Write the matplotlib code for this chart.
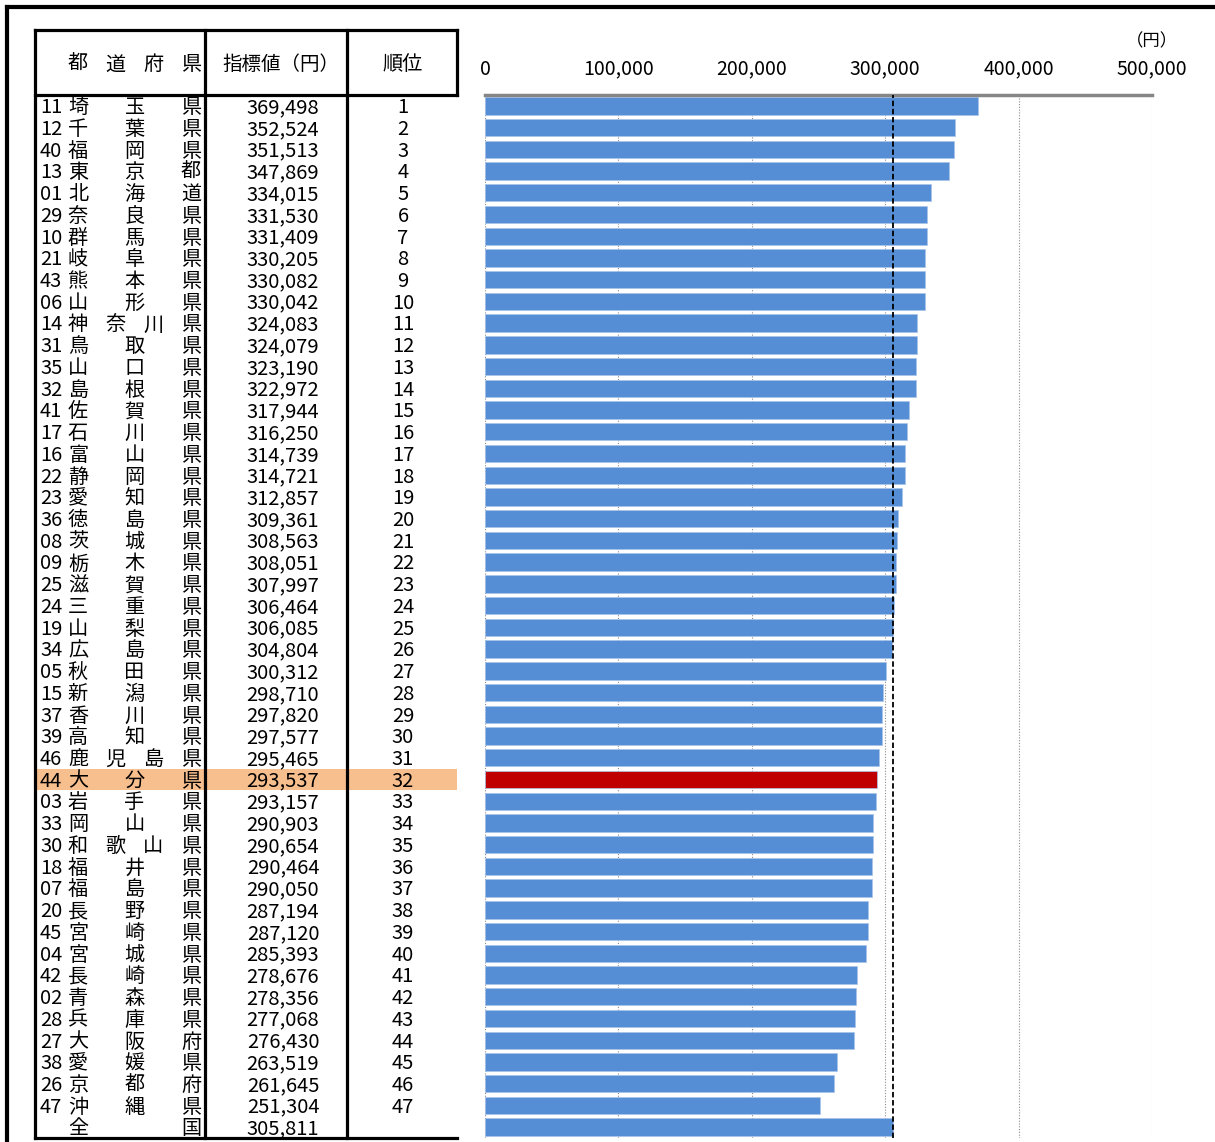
import matplotlib.pyplot as plt
from matplotlib.patches import Rectangle

plt.rcParams['font.family'] = ['Noto Sans CJK JP', 'DejaVu Sans']

# データ（指標値の高い順）
codes = ['11', '12', '40', '13', '01', '29', '10', '21', '43', '06',
         '14', '31', '35', '32', '41', '17', '16', '22', '23', '36',
         '08', '09', '25', '24', '19', '34', '05', '15', '37', '39',
         '46', '44', '03', '33', '30', '18', '07', '20', '45', '04',
         '42', '02', '28', '27', '38', '26', '47', '']
names = ['埼玉県', '千葉県', '福岡県', '東京都', '北海道', '奈良県', '群馬県', '岐阜県', '熊本県', '山形県',
         '神奈川県', '鳥取県', '山口県', '島根県', '佐賀県', '石川県', '富山県', '静岡県', '愛知県', '徳島県',
         '茨城県', '栃木県', '滋賀県', '三重県', '山梨県', '広島県', '秋田県', '新潟県', '香川県', '高知県',
         '鹿児島県', '大分県', '岩手県', '岡山県', '和歌山県', '福井県', '福島県', '長野県', '宮崎県', '宮城県',
         '長崎県', '青森県', '兵庫県', '大阪府', '愛媛県', '京都府', '沖縄県', '全国']
values = [369498, 352524, 351513, 347869, 334015, 331530, 331409, 330205, 330082, 330042,
          324083, 324079, 323190, 322972, 317944, 316250, 314739, 314721, 312857, 309361,
          308563, 308051, 307997, 306464, 306085, 304804, 300312, 298710, 297820, 297577,
          295465, 293537, 293157, 290903, 290654, 290464, 290050, 287194, 287120, 285393,
          278676, 278356, 277068, 276430, 263519, 261645, 251304, 305811]
ranks = [str(i) for i in range(1, 48)] + ['']
xticks = [0, 100000, 200000, 300000, 400000, 500000]
highlight = '大分県'
national = 305811

W, H = 1215, 1142
fig = plt.figure(figsize=(W / 100, H / 100), dpi=100)

# 表用の座標（ピクセル）
tab = fig.add_axes([0, 0, 1, 1])
tab.set_xlim(0, W)
tab.set_ylim(H, 0)
tab.axis('off')

top, head_bot, bot = 30, 95, 1138
xl, xc1, xc2, xr = 35, 205, 347, 457
n = len(names)
rh = (bot - head_bot) / n
dy = 1.8  # CJKフォントの縦位置補正

# 強調行
hi = names.index(highlight)
tab.add_patch(Rectangle((xl, head_bot + hi * rh), xr - xl, rh,
                        facecolor='#F8BF8E', edgecolor='none', zorder=1))

fs = 14.5
for i in range(n):
    y = head_bot + (i + 0.5) * rh + dy
    tab.text(40, y, codes[i], fontsize=fs, ha='left', va='center', zorder=3)
    chars = list(names[i])
    k = len(chars)
    for j, ch in enumerate(chars):
        x = 78 + (191 - 78) * j / (k - 1)
        tab.text(x, y, ch, fontsize=fs, ha='center', va='center', zorder=3)
    tab.text(283, y, f'{values[i]:,}', fontsize=fs, ha='center', va='center', zorder=3)
    tab.text(403, y, ranks[i], fontsize=fs, ha='center', va='center', zorder=3)

# 見出し
hy = 63 + dy
for j, ch in enumerate('都道府県'):
    tab.text(78 + (191 - 78) * j / 3, hy, ch, fontsize=fs, ha='center', va='center')
tab.text(281, hy, '指標値（円）', fontsize=14, ha='center', va='center')
tab.text(403, hy, '順位', fontsize=fs, ha='center', va='center')

# 罫線
lw = 2.3
kw = dict(color='black', lw=lw, zorder=4, solid_capstyle='projecting')
tab.plot([xl, xr], [top, top], **kw)
tab.plot([xl, xr], [head_bot, head_bot], **kw)
tab.plot([xl, xr], [bot, bot], **kw)
tab.plot([xl, xl], [top, bot], **kw)
tab.plot([xc1, xc1], [top, bot], **kw)
tab.plot([xc2, xc2], [top, bot], **kw)
tab.plot([xr, xr], [top, head_bot], **kw)

# 外枠
tab.plot([7, W + 5], [7, 7], color='black', lw=3, solid_capstyle='projecting')
tab.plot([7, 7], [7, H + 5], color='black', lw=3, solid_capstyle='projecting')

tab.text(1152, 41, '（円）', fontsize=12.5, ha='center', va='center')

# 棒グラフ
ax = fig.add_axes([485 / W, 1 - bot / H, (1152 - 485) / W, (bot - head_bot) / H])
colors = ['#C00000' if nm == highlight else '#558ED5' for nm in names]
ax.barh(range(n), values, height=0.8, color=colors, edgecolor='#A9C4EA', linewidth=0.5, zorder=2)
ax.set_ylim(n - 0.5, -0.5)
ax.set_xlim(0, 500000)
ax.set_yticks([])
ax.set_xticks(xticks)
ax.set_xticklabels([f'{v:,}' for v in xticks], fontsize=14)
ax.xaxis.tick_top()
ax.tick_params(axis='x', length=0, pad=11)
ax.grid(axis='x', color='#8C8C8C', linestyle=(0, (1, 1.5)), lw=0.8, zorder=0)
for s in ['left', 'right', 'bottom']:
    ax.spines[s].set_visible(False)
ax.spines['top'].set_color('#868686')
ax.spines['top'].set_linewidth(2.5)
ax.axvline(national, color='black', linestyle=(0, (3, 1.5)), lw=1.3, zorder=3)

fig.savefig('out.png', dpi=100)
